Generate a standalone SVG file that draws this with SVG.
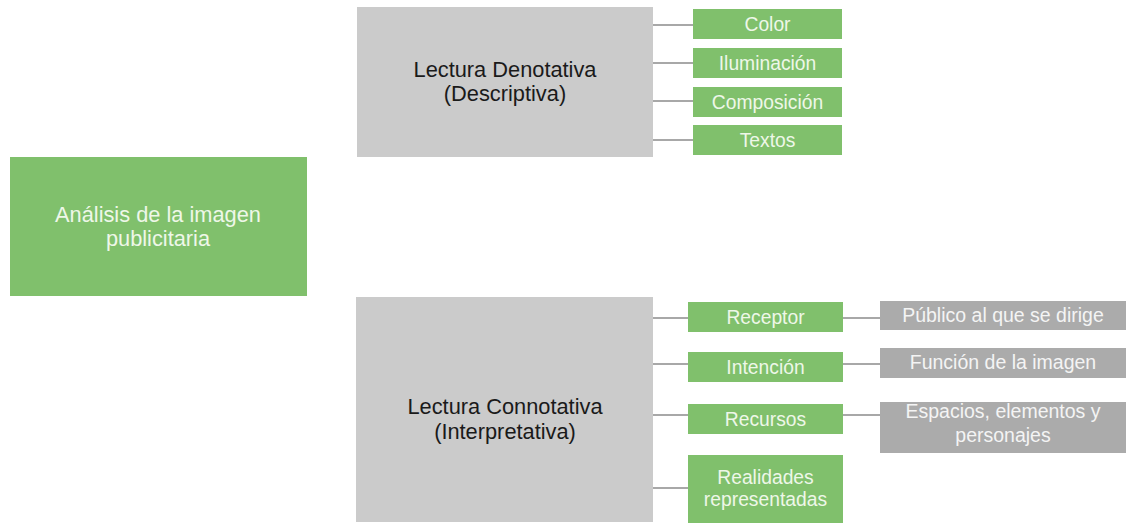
<svg xmlns="http://www.w3.org/2000/svg" width="1126" height="525" viewBox="0 0 1126 525">
<style>
.g{fill:#80c06c}
.gr{fill:#cbcbcb}
.dg{fill:#ababab}
.t{font-family:"Liberation Sans",Arial,sans-serif;text-anchor:middle}
.big{font-size:21.8px;fill:#1a1a1a}
.wt{font-size:19.3px;fill:#eef7e8}
.wg{font-size:19.5px;fill:#f4f4f4}
.m{font-size:21.8px}
.c{stroke:#8c8c8c;stroke-width:1.5;fill:none}
</style>
<rect width="1126" height="525" fill="#ffffff"/>
<g id="connectors">
<path class="c" d="M653 25H693M653 63H693M653 101H693M653 140H693"/>
<path class="c" d="M653 318H688M653 364H688M653 415H688M653 488H688"/>
<path class="c" d="M843 318H880M843 364H880M843 415H880"/>
</g>
<g id="main"><rect class="g" x="10" y="157" width="297" height="139"/>
<text class="t wt m" x="158" y="222">Análisis de la imagen</text>
<text class="t wt m" x="158" y="246">publicitaria</text></g>
<g id="denotativa"><rect class="gr" x="357" y="7" width="296" height="150"/>
<text class="t big" x="505" y="77">Lectura Denotativa</text>
<text class="t big" x="505" y="101">(Descriptiva)</text></g>
<g id="color"><rect class="g" x="693" y="9" width="149" height="30"/><text class="t wt" x="767.5" y="31">Color</text></g>
<g id="iluminacion"><rect class="g" x="693" y="48" width="149" height="30"/><text class="t wt" x="767.5" y="70">Iluminación</text></g>
<g id="composicion"><rect class="g" x="693" y="87" width="149" height="30"/><text class="t wt" x="767.5" y="109">Composición</text></g>
<g id="textos"><rect class="g" x="693" y="125" width="149" height="30"/><text class="t wt" x="767.5" y="147">Textos</text></g>
<g id="connotativa"><rect class="gr" x="356" y="297" width="297" height="225"/>
<text class="t big" x="505" y="414">Lectura Connotativa</text>
<text class="t big" x="505" y="439">(Interpretativa)</text></g>
<g id="receptor"><rect class="g" x="688" y="302" width="155" height="30"/><text class="t wt" x="765.5" y="324">Receptor</text></g>
<g id="intencion"><rect class="g" x="688" y="352" width="155" height="30"/><text class="t wt" x="765.5" y="374">Intención</text></g>
<g id="recursos"><rect class="g" x="688" y="404" width="155" height="30"/><text class="t wt" x="765.5" y="426">Recursos</text></g>
<g id="realidades"><rect class="g" x="688" y="455" width="155" height="68"/><text class="t wt" x="765.5" y="484">Realidades</text><text class="t wt" x="765.5" y="506">representadas</text></g>
<g id="publico"><rect class="dg" x="880" y="301" width="246" height="29"/><text class="t wg" x="1003" y="322">Público al que se dirige</text></g>
<g id="funcion"><rect class="dg" x="880" y="348" width="246" height="30"/><text class="t wg" x="1003" y="369">Función de la imagen</text></g>
<g id="espacios"><rect class="dg" x="880" y="402" width="246" height="51"/><text class="t wg" x="1003" y="418">Espacios, elementos y</text><text class="t wg" x="1003" y="442">personajes</text></g>
</svg>
